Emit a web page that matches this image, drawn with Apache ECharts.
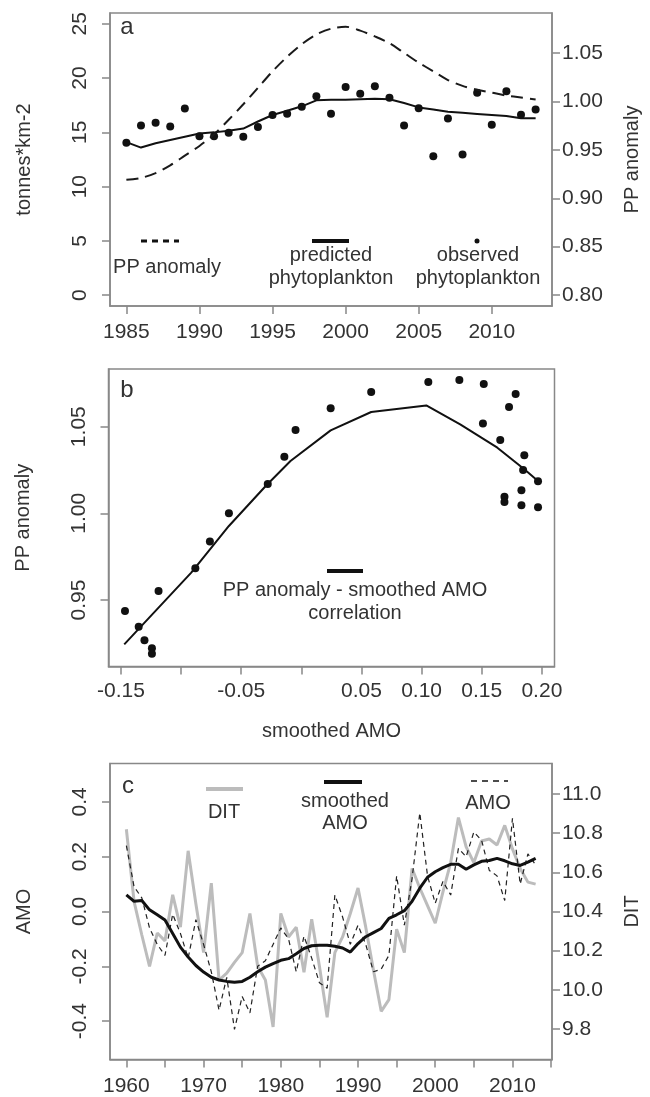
<!DOCTYPE html>
<html>
<head>
<meta charset="utf-8">
<script src="https://cdn.jsdelivr.net/npm/echarts@6/dist/echarts.min.js"></script>
<style>
  html, body { margin: 0; padding: 0; background: #fff; }
  #chart { width: 650px; height: 1097px; }
</style>
</head>
<body>
<div id="chart"></div>
<script>
// panel a: phytoplankton by year
const yearsA = [1985, 1986, 1987, 1988, 1989, 1990, 1991, 1992, 1993, 1994, 1995, 1996, 1997, 1998, 1999,
  2000, 2001, 2002, 2003, 2004, 2005, 2006, 2007, 2008, 2009, 2010, 2011, 2012, 2013];
const observedPhyto = [14.04, 15.64, 15.88, 15.54, 17.2, 14.65, 14.65, 14.96, 14.59, 15.5, 16.59, 16.71, 17.36, 18.34, 16.71,
  19.17, 18.56, 19.26, 18.19, 15.64, 17.23, 12.8, 16.28, 12.96, 18.65, 15.7, 18.8, 16.62, 17.11];
const predictedPhyto = [14.1, 13.6, 14.0, 14.3, 14.6, 14.9, 15.0, 15.15, 15.35, 16.0, 16.6, 17.0, 17.4, 17.95, 18.0,
  18.0, 18.05, 18.1, 18.05, 17.7, 17.3, 17.1, 16.9, 16.8, 16.7, 16.6, 16.5, 16.3, 16.3];
const ppAnomaly = [0.919, 0.921, 0.926, 0.934, 0.944, 0.954, 0.966, 0.981, 0.997, 1.014, 1.031, 1.046, 1.059, 1.069, 1.075,
  1.077, 1.073, 1.067, 1.060, 1.050, 1.040, 1.031, 1.022, 1.016, 1.012, 1.009, 1.006, 1.004, 1.002];
const ticksYearA = [1985, 1990, 1995, 2000, 2005, 2010];
const ticksTonnes = [0, 5, 10, 15, 20, 25];
const ticksPPa = [0.80, 0.85, 0.90, 0.95, 1.00, 1.05];

// panel b: PP anomaly against smoothed AMO
const bAmo = [-0.1466, -0.1352, -0.1304, -0.1242, -0.1242, -0.1187, -0.0881, -0.0760, -0.0602, -0.0279, -0.0141, -0.0048,
  0.0244, 0.0581, 0.1056, 0.1314, 0.1517, 0.1782, 0.1727, 0.1510, 0.1654, 0.1854, 0.1844, 0.1968, 0.1830, 0.1689,
  0.1689, 0.1830, 0.1968];
const bPP = [0.9437, 0.9346, 0.9267, 0.9221, 0.9190, 0.9552, 0.9683, 0.9838, 1.0000, 1.0169, 1.0327, 1.0481,
  1.0606, 1.0700, 1.0758, 1.0769, 1.0746, 1.0688, 1.0613, 1.0519, 1.0423, 1.0335, 1.0250, 1.0185, 1.0133, 1.0096,
  1.0065, 1.0046, 1.0035];
const bFitAmo = [-0.1472, -0.0915, -0.0602, -0.0296, -0.0090, 0.0244, 0.0581, 0.1039, 0.1321, 0.1630, 0.1854, 0.1968];
const bFitPP = [0.9244, 0.9658, 0.9927, 1.0158, 1.0302, 1.0479, 1.0585, 1.0623, 1.0513, 1.0379, 1.0254, 1.0187];
const ticksAmoB = [-0.15, -0.10, -0.05, 0.00, 0.05, 0.10, 0.15, 0.20];
const labelsAmoB = [-0.15, -0.05, 0.05, 0.10, 0.15, 0.20];
const ticksPPb = [0.95, 1.00, 1.05];

// panel c: DIT and AMO 1960-2013
const yearsC = [];
for (let y = 1960; y <= 2013; y++) yearsC.push(y);
const dit = [10.82, 10.45, 10.28, 10.12, 10.29, 10.25, 10.485, 10.32, 10.71, 10.44,
  10.19, 10.545, 10.05, 10.085, 10.14, 10.19, 10.39, 10.12, 10.05, 9.81,
  10.39, 10.27, 10.32, 10.09, 10.36, 10.12, 9.86, 10.19, 10.27, 10.39,
  10.52, 10.32, 10.1, 9.89, 9.95, 10.31, 10.19, 10.62, 10.52, 10.43,
  10.34, 10.5, 10.65, 10.88, 10.73, 10.65, 10.76, 10.77, 10.74, 10.84,
  10.72, 10.62, 10.55, 10.54];
const amo = [0.24, 0.09, 0.05, -0.06, -0.12, -0.16, -0.01, -0.08, -0.17, -0.03,
  -0.12, -0.22, -0.36, -0.24, -0.43, -0.31, -0.37, -0.2, -0.18, -0.12,
  -0.06, -0.1, -0.22, -0.09, -0.17, -0.26, -0.28, 0.06, -0.02, -0.12,
  -0.05, -0.12, -0.22, -0.21, -0.16, 0.13, -0.05, 0.12, 0.36, 0.13,
  0.03, 0.11, 0.06, 0.23, 0.2, 0.29, 0.26, 0.15, 0.13, 0.04,
  0.34, 0.1, 0.21, 0.17];
const amoSmooth = [0.061, 0.037, 0.04, 0.006, -0.012, -0.031, -0.08, -0.13, -0.166, -0.197,
  -0.221, -0.24, -0.25, -0.255, -0.258, -0.255, -0.24, -0.22, -0.203, -0.19,
  -0.178, -0.172, -0.154, -0.135, -0.125, -0.123, -0.123, -0.127, -0.133, -0.148,
  -0.117, -0.092, -0.077, -0.062, -0.025, -0.012, 0.003, 0.037, 0.085, 0.125,
  0.145, 0.16, 0.172, 0.172, 0.154, 0.17, 0.183, 0.186, 0.194, 0.185,
  0.174, 0.168, 0.18, 0.194];
const ticksYearC = [1960, 1965, 1970, 1975, 1980, 1985, 1990, 1995, 2000, 2005, 2010, 2015];
const labelsYearC = [1960, 1970, 1980, 1990, 2000, 2010];
const ticksAmoC = [-0.4, -0.2, 0.0, 0.2, 0.4];
const ticksDit = [9.8, 10.0, 10.2, 10.4, 10.6, 10.8, 11.0];

const FONT = '"Liberation Sans", Arial, sans-serif';
const TXT = '#333';
const BOX = '#888';

function pairs(xs, ys) {
  return xs.map((x, i) => [x, ys[i]]);
}

function axis(o) {
  return {
    type: 'value',
    gridIndex: o.grid,
    position: o.position,
    min: o.min,
    max: o.max,
    name: o.name || '',
    nameLocation: 'middle',
    nameGap: o.nameGap || 0,
    nameRotate: o.nameRotate,
    nameTextStyle: { fontFamily: FONT, fontSize: 20, color: TXT },
    axisLine: { show: true, onZero: false, lineStyle: { color: BOX, width: 1.5 } },
    axisTick: { show: true, inside: false, length: 8, lineStyle: { color: BOX, width: 1.5 }, customValues: o.ticks },
    axisLabel: {
      show: true, margin: o.margin, rotate: o.rotate || 0,
      fontFamily: FONT, fontSize: 21, color: TXT,
      customValues: o.labels || o.ticks,
      formatter: o.fmt
    },
    splitLine: { show: false }
  };
}

function text(x, y, s, size) {
  return {
    type: 'text', x: x, y: y, silent: true,
    style: { text: s, fontFamily: FONT, fontSize: size || 20, fill: TXT, align: 'center', verticalAlign: 'middle',
      textAlign: 'center', textVerticalAlign: 'middle' }
  };
}
function seg(x1, x2, y, color, width, dash) {
  return {
    type: 'line', silent: true,
    shape: { x1: x1, y1: y, x2: x2, y2: y },
    style: { stroke: color, lineWidth: width, lineDash: dash || null }
  };
}

const chart = echarts.init(document.getElementById('chart'));

const option = {
  animation: false,
  backgroundColor: '#fff',
  grid: [
    { left: 110, top: 13, width: 444, height: 293, show: true, borderColor: BOX, borderWidth: 1.5, containLabel: false },
    { left: 108.5, top: 369, width: 446, height: 297.5, show: true, borderColor: BOX, borderWidth: 1.5, containLabel: false },
    { left: 110, top: 763.5, width: 444, height: 296, show: true, borderColor: BOX, borderWidth: 1.5, containLabel: false }
  ],
  xAxis: [
    axis({ grid: 0, position: 'bottom', min: 1983.88, max: 2014.12, ticks: ticksYearA, margin: 16, fmt: v => String(v) }),
    axis({ grid: 1, position: 'bottom', min: -0.1603, max: 0.2105, ticks: ticksAmoB, labels: labelsAmoB, margin: 14,
      fmt: v => v.toFixed(2), name: 'smoothed AMO', nameGap: 55 }),
    axis({ grid: 2, position: 'bottom', min: 1957.88, max: 2015.12, ticks: ticksYearC, labels: labelsYearC, margin: 16,
      fmt: v => String(v) })
  ],
  yAxis: [
    axis({ grid: 0, position: 'left', min: -1, max: 26, ticks: ticksTonnes, rotate: 90, margin: 19,
      fmt: v => String(v), name: 'tonnes*km-2', nameGap: 76, nameRotate: 90 }),
    axis({ grid: 0, position: 'right', min: 0.7888, max: 1.0912, ticks: ticksPPa, margin: 10,
      fmt: v => v.toFixed(2), name: 'PP anomaly', nameGap: 70, nameRotate: 90 }),
    axis({ grid: 1, position: 'left', min: 0.9116, max: 1.0833, ticks: ticksPPb, rotate: 90, margin: 19,
      fmt: v => v.toFixed(2), name: 'PP anomaly', nameGap: 75, nameRotate: 90 }),
    axis({ grid: 2, position: 'left', min: -0.54, max: 0.54, ticks: ticksAmoC, rotate: 90, margin: 19,
      fmt: v => v.toFixed(1), name: 'AMO', nameGap: 76, nameRotate: 90 }),
    axis({ grid: 2, position: 'right', min: 9.644, max: 11.156, ticks: ticksDit, margin: 10,
      fmt: v => v.toFixed(1), name: 'DIT', nameGap: 70, nameRotate: 90 })
  ],
  series: [
    {
      name: 'PP anomaly', type: 'line', xAxisIndex: 0, yAxisIndex: 1,
      data: pairs(yearsA, ppAnomaly), showSymbol: false, smooth: 0.3,
      lineStyle: { color: '#1a1a1a', width: 2, type: [12, 7] }
    },
    {
      name: 'predicted phytoplankton', type: 'line', xAxisIndex: 0, yAxisIndex: 0,
      data: pairs(yearsA, predictedPhyto), showSymbol: false,
      lineStyle: { color: '#111', width: 2 }
    },
    {
      name: 'observed phytoplankton', type: 'scatter', xAxisIndex: 0, yAxisIndex: 0,
      data: pairs(yearsA, observedPhyto), symbolSize: 8, itemStyle: { color: '#111', opacity: 1 }
    },
    {
      name: 'correlation', type: 'line', xAxisIndex: 1, yAxisIndex: 2,
      data: pairs(bFitAmo, bFitPP), showSymbol: false,
      lineStyle: { color: '#111', width: 2 }
    },
    {
      name: 'PP anomaly points', type: 'scatter', xAxisIndex: 1, yAxisIndex: 2,
      data: pairs(bAmo, bPP), symbolSize: 8, itemStyle: { color: '#111', opacity: 1 }
    },
    {
      name: 'DIT', type: 'line', xAxisIndex: 2, yAxisIndex: 4,
      data: pairs(yearsC, dit), showSymbol: false,
      lineStyle: { color: '#bcbcbc', width: 3 }
    },
    {
      name: 'AMO', type: 'line', xAxisIndex: 2, yAxisIndex: 3,
      data: pairs(yearsC, amo), showSymbol: false,
      lineStyle: { color: '#222', width: 1.2, type: [5, 4] }
    },
    {
      name: 'smoothed AMO', type: 'line', xAxisIndex: 2, yAxisIndex: 3,
      data: pairs(yearsC, amoSmooth), showSymbol: false,
      lineStyle: { color: '#111', width: 3 }
    }
  ],
  graphic: [
    // panel a labels / key
    text(127, 27, 'a', 24),
    seg(141, 179, 241, '#111', 3, [6, 5]),
    text(167, 267, 'PP anomaly'),
    seg(312, 349, 241, '#111', 4),
    text(331, 255, 'predicted'),
    text(331, 278, 'phytoplankton'),
    { type: 'circle', silent: true, shape: { cx: 477, cy: 241, r: 2.5 }, style: { fill: '#111' } },
    text(478, 255, 'observed'),
    text(478, 278, 'phytoplankton'),
    // panel b
    text(127, 390, 'b', 24),
    seg(327, 363, 571, '#111', 4),
    text(355, 590, 'PP anomaly - smoothed AMO'),
    text(355, 613, 'correlation'),
    // panel c
    text(128, 786, 'c', 24),
    seg(206, 243, 789, '#bcbcbc', 4),
    text(224, 812, 'DIT'),
    seg(324, 362, 782, '#111', 4),
    text(345, 801, 'smoothed'),
    text(345, 823, 'AMO'),
    seg(471, 508, 781, '#111', 1.5, [6, 5]),
    text(488, 803, 'AMO')
  ]
};

chart.setOption(option);
</script>
</body>
</html>
